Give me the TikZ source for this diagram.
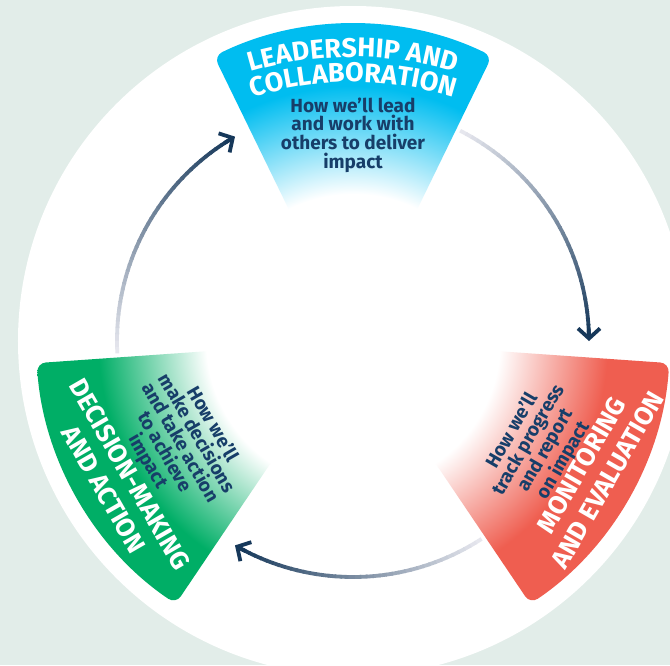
\documentclass[tikz,border=0pt]{standalone}
\usepackage{fontspec}
\setmainfont{Fira Sans}
\usetikzlibrary{arrows.meta,decorations.text}

\definecolor{mint}{RGB}{226,237,233}
\definecolor{skyc}{RGB}{0,189,240}
\definecolor{leafc}{RGB}{0,174,102}
\definecolor{coralc}{RGB}{239,94,80}
\definecolor{inkc}{RGB}{23,62,105}
\definecolor{arrowdark}{RGB}{22,56,90}
\definecolor{arrowlight}{RGB}{230,231,238}

% radial fades: white near the hub, full colour towards the rim
% (25bp of the shading is stretched to 340pt, so 1bp = 13.6pt)
\pgfdeclareradialshading{skyfade}{\pgfpointorigin}{color(0bp)=(white); color(10.8bp)=(white); color(18.75bp)=(skyc); color(50bp)=(skyc)}
\pgfdeclareradialshading{leaffade}{\pgfpointorigin}{color(0bp)=(white); color(10.8bp)=(white); color(18.75bp)=(leafc); color(50bp)=(leafc)}
\pgfdeclareradialshading{coralfade}{\pgfpointorigin}{color(0bp)=(white); color(10.8bp)=(white); color(18.75bp)=(coralc); color(50bp)=(coralc)}

\newcommand\arctitlefont{\bfseries\fontsize{27}{30}\selectfont}
\newcommand\titlefont{\bfseries\fontsize{26}{30}\selectfont}
\newcommand\bodyfont{\bfseries\fontsize{19}{18.6}\selectfont}

\begin{document}
\begin{tikzpicture}[x=1pt,y=1pt,
  sector/.style={rounded corners=9pt},
  title/.style={text=white, font=\titlefont, align=center, inner sep=0pt},
  body/.style={text=inkc, font=\bodyfont, align=center, inner sep=0pt},
  loopline/.style={line width=3.8pt}]
\useasboundingbox (-353,-324) rectangle (317,341);
\fill[mint] (-353,-324) rectangle (317,341);
\coordinate (c) at (0,0);
\fill[white] (c) circle[radius=335];

% three coloured sectors
\begin{scope}
  \clip[sector] (64:120) -- (64:317) arc[start angle=64,end angle=116,radius=317] -- (116:120) -- cycle;
  \shade[shading=skyfade] (-340,-340) rectangle (340,340);
\end{scope}
\begin{scope}
  \clip[sector] (184:120) -- (184:317) arc[start angle=184,end angle=236,radius=317] -- (236:120) -- cycle;
  \shade[shading=leaffade] (-340,-340) rectangle (340,340);
\end{scope}
\begin{scope}
  \clip[sector] (-56:120) -- (-56:317) arc[start angle=-56,end angle=-4,radius=317] -- (-4:120) -- cycle;
  \shade[shading=coralfade] (-340,-340) rectangle (340,340);
\end{scope}

% cycle arrows, fading from pale grey to navy
\foreach \s/\e in {63/0, -57/-120, 183/120}{
  \pgfmathsetmacro\ee{\e+1}
  \foreach \k in {0,...,39}{
    \pgfmathsetmacro\aa{\s+(\ee-\s)*\k/40}
    \pgfmathsetmacro\bb{\s+(\ee-\s)*(\k+1.2)/40}
    \pgfmathtruncatemacro\pp{100*\k/39}
    \draw[loopline, arrowdark!\pp!arrowlight] (\aa:236) arc[start angle=\aa, end angle=\bb, radius=236];
  }
  \pgfmathsetmacro\tt{\e+3}
  \draw[loopline, arrowdark, -{Straight Barb[length=10pt,width=22pt]}] (\tt:236) arc[start angle=\tt, end angle=\e, radius=236];
}

% top sector
\path[decorate, decoration={text along path, text align=center, text color=white,
  text={|\arctitlefont|LEADERSHIP AND}}] (0,-76) ++(125:360) arc[start angle=125, end angle=55, radius=360];
\path[decorate, decoration={text along path, text align=center, text color=white,
  text={|\arctitlefont|COLLABORATION}}] (0,-76) ++(125:335) arc[start angle=125, end angle=55, radius=335];
\node[body] (leadbody) at (0,206) {How we’ll lead\\and work with\\others to deliver\\impact};

% lower-left sector
\node[title, rotate=-60] (dectitle) at (210.8:275) {DECISION-MAKING\\AND ACTION};
\node[body, rotate=-60] (decbody) at (210.5:201) {How we’ll\\make decisions\\and take action\\to achieve\\impact};

% lower-right sector
\node[title, rotate=60] (metitle) at (-28.6:275) {MONITORING\\AND EVALUATION};
\node[body, rotate=60] (mebody) at (-29.5:213) {How we’ll\\track progress\\and report\\on impact};
\end{tikzpicture}
\end{document}
